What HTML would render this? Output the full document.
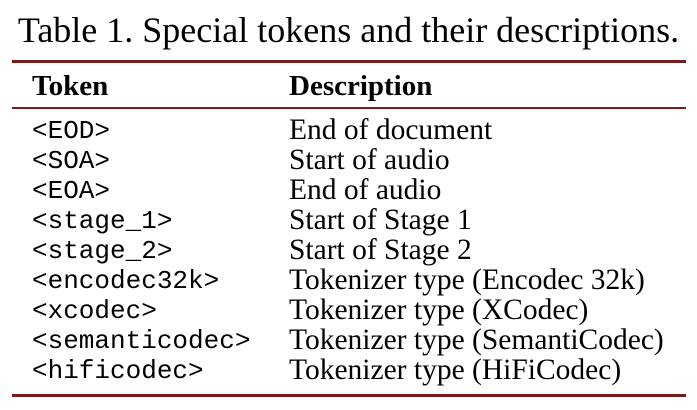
<!DOCTYPE html>
<html><head><style>
body{margin:0;width:697px;height:410px;background:#fff;position:relative;overflow:hidden;font-family:"Liberation Serif",serif;color:#000}
.a{position:absolute;white-space:nowrap;line-height:1}
.cap{left:0;width:697px;text-align:center;top:12px;font-size:36px}
.r{position:absolute;left:12px;width:674px;background:#7b1c1c}
.m{font-family:"Liberation Mono",monospace;font-size:26px;left:32px}
.d{font-size:29.5px;left:289px;margin-top:-2px}
.h{font-weight:bold;font-size:29px;top:72px}
</style></head><body>
<div class="a cap">Table 1. Special tokens and their descriptions.</div>
<div class="r" style="top:60px;height:3px"></div>
<div class="a h" style="left:32px">Token</div>
<div class="a h" style="left:289px">Description</div>
<div class="r" style="top:107px;height:2px"></div>
<div class="a m" style="top:118px">&lt;EOD&gt;</div><div class="a d" style="top:118px">End of document</div>
<div class="a m" style="top:148px">&lt;SOA&gt;</div><div class="a d" style="top:148px">Start of audio</div>
<div class="a m" style="top:178px">&lt;EOA&gt;</div><div class="a d" style="top:178px">End of audio</div>
<div class="a m" style="top:208px">&lt;stage_1&gt;</div><div class="a d" style="top:208px">Start of Stage 1</div>
<div class="a m" style="top:238px">&lt;stage_2&gt;</div><div class="a d" style="top:238px">Start of Stage 2</div>
<div class="a m" style="top:268px">&lt;encodec32k&gt;</div><div class="a d" style="top:268px">Tokenizer type (Encodec 32k)</div>
<div class="a m" style="top:298px">&lt;xcodec&gt;</div><div class="a d" style="top:298px">Tokenizer type (XCodec)</div>
<div class="a m" style="top:328px">&lt;semanticodec&gt;</div><div class="a d" style="top:328px">Tokenizer type (SemantiCodec)</div>
<div class="a m" style="top:358px">&lt;hificodec&gt;</div><div class="a d" style="top:358px">Tokenizer type (HiFiCodec)</div>
<div class="r" style="top:394px;height:3px"></div>
</body></html>
